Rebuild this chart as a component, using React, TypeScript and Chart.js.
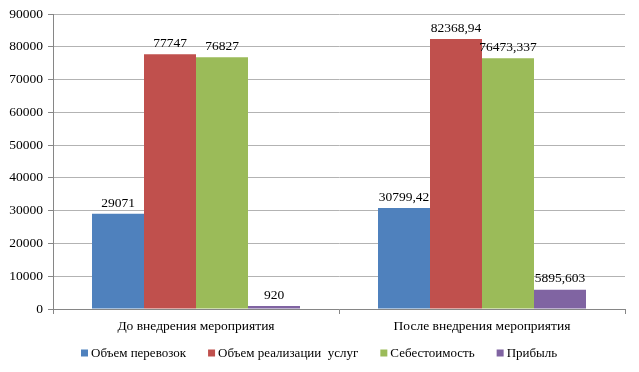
import React, { useEffect, useRef } from "react";
import { Chart, registerables } from "chart.js";

Chart.register(...registerables);

const categories = ["До внедрения мероприятия", "После внедрения мероприятия"];
const seriesNames = ["Объем перевозок", "Объем реализации  услуг", "Себестоимость", "Прибыль"];
const transport = [29071, 30799.42];
const sales = [77747, 82368.94];
const cost = [76827, 76473.337];
const profit = [920, 5895.603];
const transportLabels = ["29071", "30799,42"];
const salesLabels = ["77747", "82368,94"];
const costLabels = ["76827", "76473,337"];
const profitLabels = ["920", "5895,603"];
const colors = ["#4F81BD", "#C0504D", "#9BBB59", "#8064A2"];

const FONT = "'Liberation Serif', 'Times New Roman', serif";
const FS = 13.5;
const LEGEND_FS = 13;

const labelPlugin = {
  id: "valueLabels",
  afterDatasetsDraw(chart: any) {
    const ctx = chart.ctx;
    ctx.save();
    ctx.font = `${FS}px ${FONT}`;
    ctx.fillStyle = "#000";
    ctx.textAlign = "center";
    ctx.textBaseline = "bottom";
    chart.data.datasets.forEach((ds: any, di: number) => {
      const meta = chart.getDatasetMeta(di);
      meta.data.forEach((bar: any, i: number) => {
        ctx.fillText(ds.valueLabels[i], bar.x, bar.y - 4);
      });
    });
    ctx.restore();
  },
};

const legendPlugin = {
  id: "bottomLegend",
  afterDraw(chart: any) {
    const ctx = chart.ctx;
    ctx.save();
    ctx.font = `${LEGEND_FS}px ${FONT}`;
    ctx.textBaseline = "middle";
    ctx.textAlign = "left";
    const box = 7;
    const gapText = 3;
    const gapItem = 22;
    const items = chart.data.datasets.map((ds: any) => ({
      text: ds.label,
      color: ds.backgroundColor,
      w: box + gapText + ctx.measureText(ds.label).width,
    }));
    const total = items.reduce((a: number, it: any) => a + it.w, 0) + gapItem * (items.length - 1);
    let x = Math.round((chart.width - total) / 2);
    const y = 353;
    items.forEach((it: any) => {
      ctx.fillStyle = it.color;
      ctx.fillRect(x, y - box / 2, box, box);
      ctx.fillStyle = "#000";
      ctx.fillText(it.text, x + box + gapText, y + 0.5);
      x += it.w + gapItem;
    });
    ctx.restore();
  },
};

export default function App() {
  const ref = useRef<HTMLCanvasElement>(null);
  useEffect(() => {
    document.body.style.margin = "0";
    const data = [transport, sales, cost, profit];
    const lbls = [transportLabels, salesLabels, costLabels, profitLabels];
    const chart = new Chart(ref.current!, {
      type: "bar",
      data: {
        labels: categories,
        datasets: seriesNames.map((n, i) => ({
          label: n,
          data: data[i],
          backgroundColor: colors[i],
          borderWidth: 0,
          categoryPercentage: 4 / 5.5,
          barPercentage: 1,
          valueLabels: lbls[i],
        })) as any,
      },
      options: {
        animation: false,
        responsive: false,
        layout: { padding: { top: 14, right: 14, left: 0, bottom: 33 } },
        plugins: {
          tooltip: { enabled: false },
          legend: { display: false },
        },
        scales: {
          x: {
            afterFit: (s: any) => {
              s.height = 30;
            },
            grid: {
              offset: true,
              drawOnChartArea: false,
              drawTicks: true,
              tickLength: 5,
              color: "#868686",
            },
            border: { display: true, color: "#868686" },
            ticks: { color: "#000", padding: 4, font: { family: FONT, size: FS } },
          },
          y: {
            min: 0,
            max: 90000,
            afterFit: (s: any) => {
              s.width = 53;
            },
            ticks: {
              stepSize: 10000,
              color: "#000",
              padding: 5,
              font: { family: FONT, size: FS },
              callback: (v: any) => String(v),
            },
            grid: { color: "#B3B3B3", tickLength: 5, tickColor: "#868686" },
            border: { display: true, color: "#868686" },
          },
        },
      },
      plugins: [labelPlugin, legendPlugin],
    });
    return () => chart.destroy();
  }, []);
  return <canvas ref={ref} width={639} height={372} style={{ display: "block" }} />;
}
